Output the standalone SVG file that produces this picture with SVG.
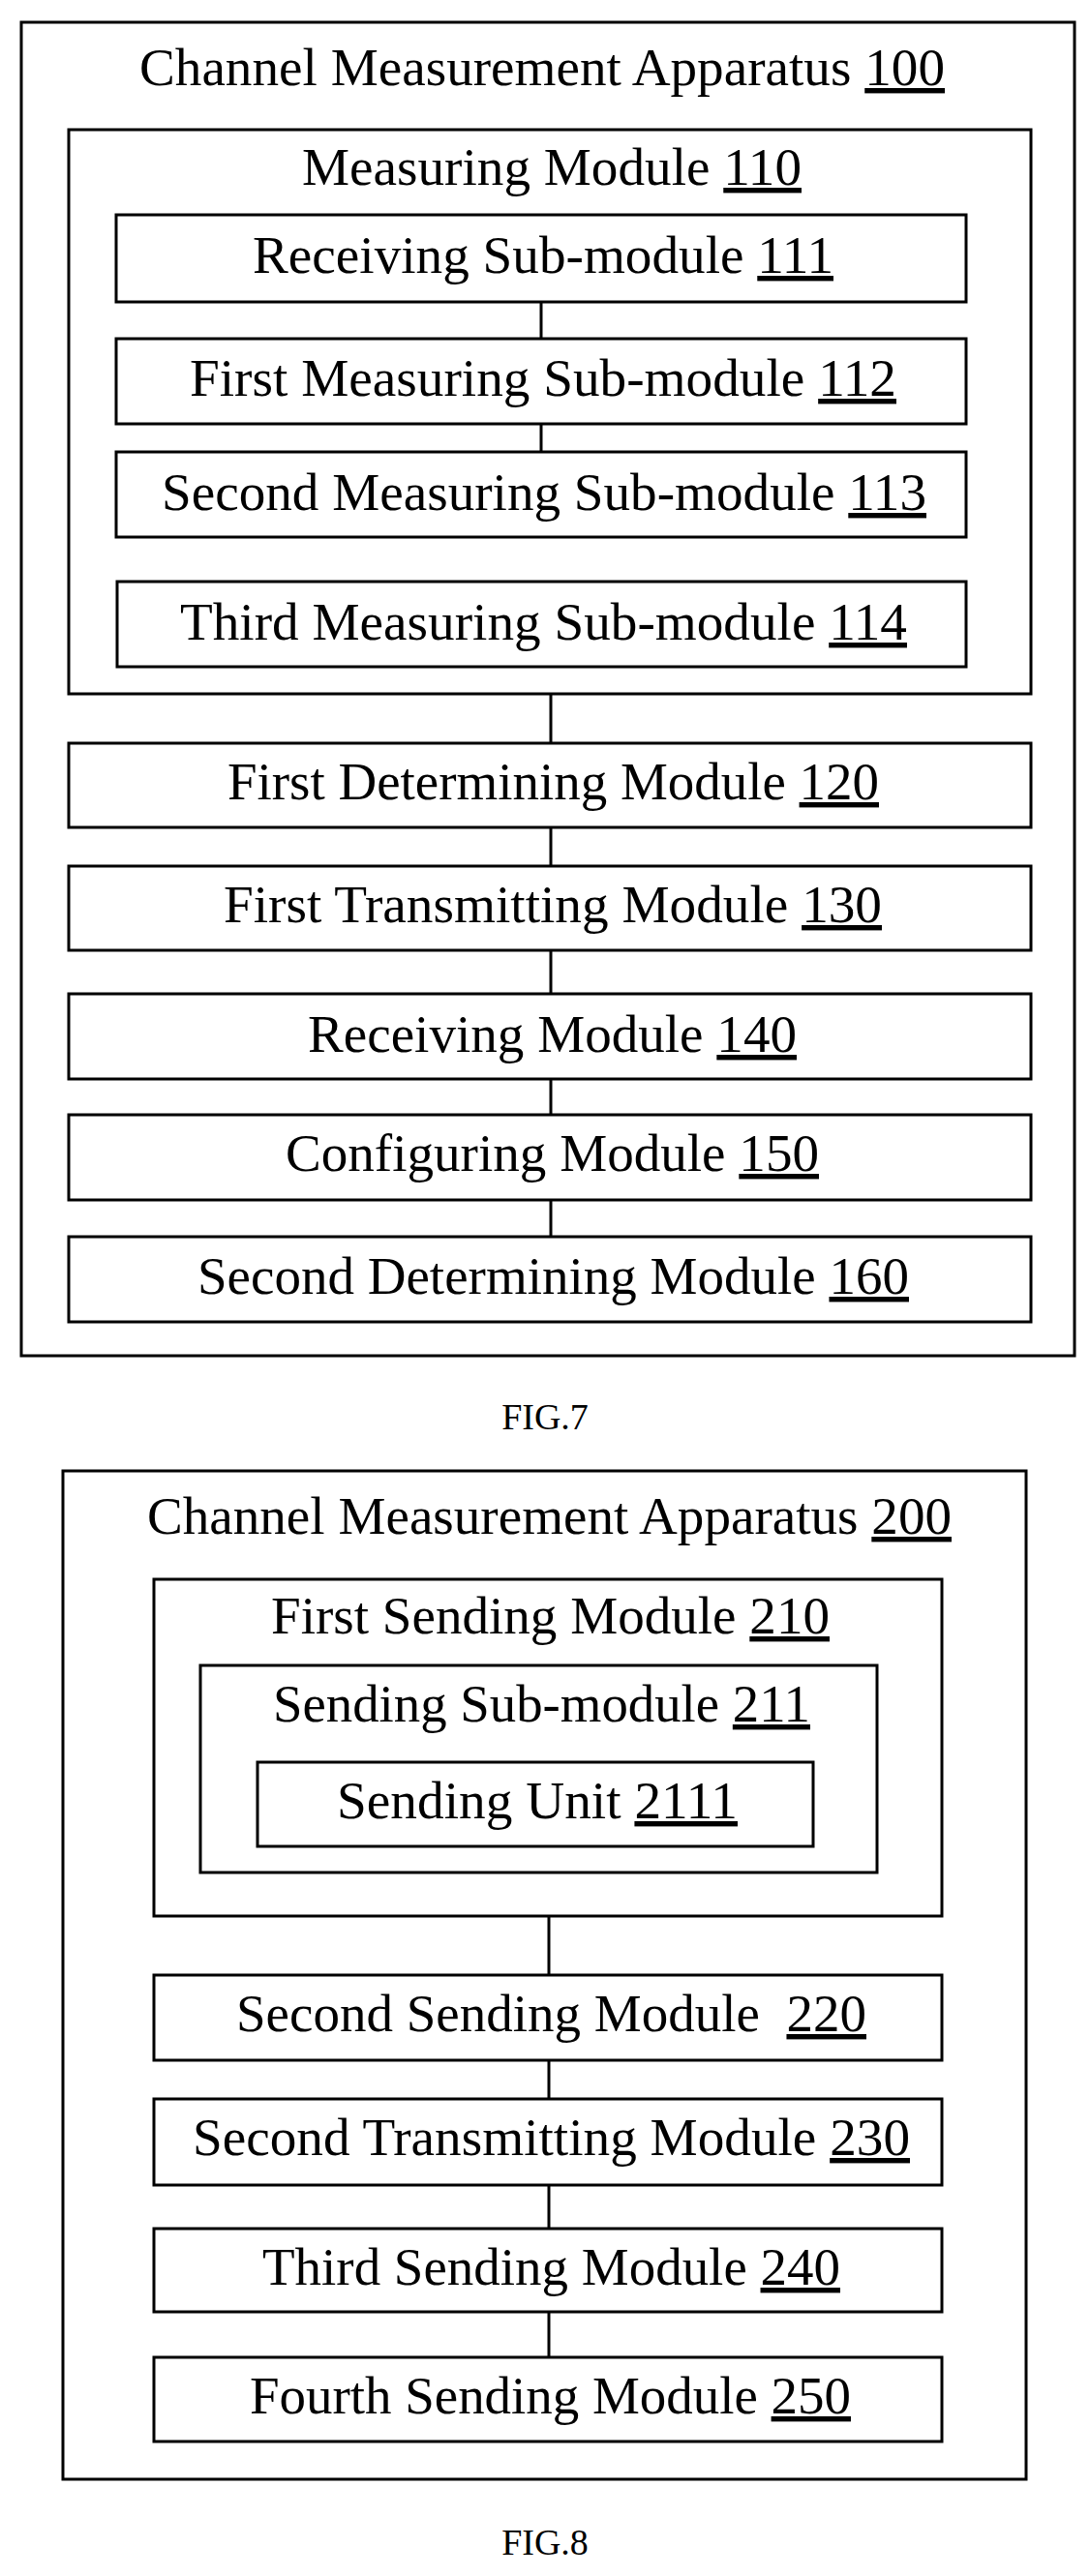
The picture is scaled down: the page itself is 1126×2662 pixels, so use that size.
<svg xmlns="http://www.w3.org/2000/svg" width="1126" height="2662" viewBox="0 0 1126 2662">
<style>
rect{fill:none;stroke:#000;stroke-width:3}
line{stroke:#000;stroke-width:3}
text{font-family:"Liberation Serif","Times New Roman",serif;font-size:54px;fill:#000}
.u{text-decoration:underline}
.fig{font-size:38px}
</style>
<rect x="0" y="0" width="1126" height="2662" style="fill:#fff;stroke:none"/>
<g id="connectors">
<line x1="559" y1="312" x2="559" y2="350"/>
<line x1="559" y1="438" x2="559" y2="467"/>
<line x1="569" y1="717" x2="569" y2="768"/>
<line x1="569" y1="855" x2="569" y2="895"/>
<line x1="569" y1="982" x2="569" y2="1027"/>
<line x1="569" y1="1115" x2="569" y2="1152"/>
<line x1="569" y1="1240" x2="569" y2="1278"/>
<line x1="567" y1="1980" x2="567" y2="2041"/>
<line x1="567" y1="2129" x2="567" y2="2169"/>
<line x1="567" y1="2258" x2="567" y2="2303"/>
<line x1="567" y1="2389" x2="567" y2="2436"/>
</g>
<g id="n100"><rect x="22" y="23" width="1088" height="1378"/><text x="144" y="88" textLength="832" lengthAdjust="spacingAndGlyphs">Channel Measurement Apparatus <tspan class="u">100</tspan></text></g>
<g id="n110"><rect x="71" y="134" width="994" height="583"/><text x="312" y="191" textLength="516" lengthAdjust="spacingAndGlyphs">Measuring Module <tspan class="u">110</tspan></text></g>
<g id="n111"><rect x="120" y="222" width="878" height="90"/><text x="261" y="282" textLength="600" lengthAdjust="spacingAndGlyphs">Receiving Sub-module <tspan class="u">111</tspan></text></g>
<g id="n112"><rect x="120" y="350" width="878" height="88"/><text x="196" y="409" textLength="730" lengthAdjust="spacingAndGlyphs">First Measuring Sub-module <tspan class="u">112</tspan></text></g>
<g id="n113"><rect x="120" y="467" width="878" height="88"/><text x="167" y="527" textLength="790" lengthAdjust="spacingAndGlyphs">Second Measuring Sub-module <tspan class="u">113</tspan></text></g>
<g id="n114"><rect x="121" y="601" width="877" height="88"/><text x="186" y="661" textLength="751" lengthAdjust="spacingAndGlyphs">Third Measuring Sub-module <tspan class="u">114</tspan></text></g>
<g id="n120"><rect x="71" y="768" width="994" height="87"/><text x="235" y="826" textLength="673" lengthAdjust="spacingAndGlyphs">First Determining Module <tspan class="u">120</tspan></text></g>
<g id="n130"><rect x="71" y="895" width="994" height="87"/><text x="231" y="953" textLength="680" lengthAdjust="spacingAndGlyphs">First Transmitting Module <tspan class="u">130</tspan></text></g>
<g id="n140"><rect x="71" y="1027" width="994" height="88"/><text x="318" y="1087" textLength="505" lengthAdjust="spacingAndGlyphs">Receiving Module <tspan class="u">140</tspan></text></g>
<g id="n150"><rect x="71" y="1152" width="994" height="88"/><text x="295" y="1210" textLength="551" lengthAdjust="spacingAndGlyphs">Configuring Module <tspan class="u">150</tspan></text></g>
<g id="n160"><rect x="71" y="1278" width="994" height="88"/><text x="204" y="1337" textLength="735" lengthAdjust="spacingAndGlyphs">Second Determining Module <tspan class="u">160</tspan></text></g>
<text class="fig" x="563" y="1477" text-anchor="middle">FIG.7</text>
<g id="n200"><rect x="65" y="1520" width="995" height="1042"/><text x="152" y="1585" textLength="831" lengthAdjust="spacingAndGlyphs">Channel Measurement Apparatus <tspan class="u">200</tspan></text></g>
<g id="n210"><rect x="159" y="1632" width="814" height="348"/><text x="280" y="1688" textLength="577" lengthAdjust="spacingAndGlyphs">First Sending Module <tspan class="u">210</tspan></text></g>
<g id="n211"><rect x="207" y="1721" width="699" height="214"/><text x="282" y="1779" textLength="555" lengthAdjust="spacingAndGlyphs">Sending Sub-module <tspan class="u">211</tspan></text></g>
<g id="n2111"><rect x="266" y="1821" width="574" height="87"/><text x="348" y="1879" textLength="414" lengthAdjust="spacingAndGlyphs">Sending Unit <tspan class="u">2111</tspan></text></g>
<g id="n220"><rect x="159" y="2041" width="814" height="88"/><text x="244" y="2099" textLength="651" lengthAdjust="spacingAndGlyphs" xml:space="preserve">Second Sending Module  <tspan class="u">220</tspan></text></g>
<g id="n230"><rect x="159" y="2169" width="814" height="89"/><text x="199" y="2227" textLength="741" lengthAdjust="spacingAndGlyphs">Second Transmitting Module <tspan class="u">230</tspan></text></g>
<g id="n240"><rect x="159" y="2303" width="814" height="86"/><text x="271" y="2361" textLength="597" lengthAdjust="spacingAndGlyphs">Third Sending Module <tspan class="u">240</tspan></text></g>
<g id="n250"><rect x="159" y="2436" width="814" height="87"/><text x="258" y="2494" textLength="621" lengthAdjust="spacingAndGlyphs">Fourth Sending Module <tspan class="u">250</tspan></text></g>
<text class="fig" x="563" y="2640" text-anchor="middle">FIG.8</text>
</svg>
